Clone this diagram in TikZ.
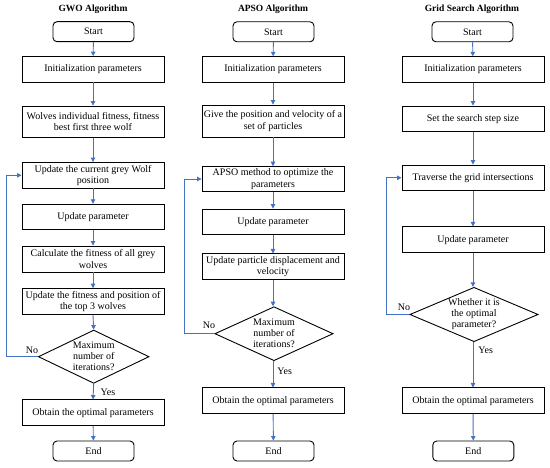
\documentclass[tikz,border=0pt]{standalone}
\usepackage{fontspec}
\setmainfont{Liberation Serif}
\usetikzlibrary{shapes.geometric,arrows.meta}
\definecolor{flowblue}{RGB}{68,114,196}
\begin{document}
\begin{tikzpicture}[x=1pt,y=-1pt,
  box/.style={draw=black, line width=0.9pt, minimum width=142pt, minimum height=25.5pt, align=center, inner sep=1pt, font=\fontsize{10}{11.5}\selectfont},
  term/.style={draw=black, line width=0.9pt, rounded corners=4pt, minimum width=81pt, minimum height=20pt, inner sep=1pt, font=\fontsize{10}{11.5}\selectfont},
  dia/.style={draw=black, line width=0.9pt, diamond, inner sep=0pt},
  diatext/.style={align=center, inner sep=0pt, font=\fontsize{10}{11}\selectfont},
  arr/.style={draw=flowblue, line width=0.9pt, -{Triangle[length=4.5pt,width=4.5pt]}},
  ttl/.style={font=\bfseries\fontsize{9.5}{11}\selectfont},
  lbl/.style={inner sep=0pt, font=\fontsize{10}{11}\selectfont}
]
\useasboundingbox (0,0) rectangle (550,468);
\coordinate (gl) at (6,0);
\coordinate (al) at (184,0);
\coordinate (rl) at (386,0);

% GWO
\node[ttl] (g0) at (93,9.3) {GWO Algorithm};
\node[term] (gs) at (93.5,31.7) {Start};
\node[box] (g1) at (93,69.3) {Initialization parameters};
\node[box, minimum height=31.3pt] (g2) at (93,121.7) {Wolves individual fitness, fitness\\best first three wolf};
\node[box] (g3) at (93,175.3) {Update the current grey Wolf\\position};
\node[box] (g4) at (93,217) {Update parameter};
\node[box, minimum height=26pt] (g5) at (93,259) {Calculate the fitness of all grey\\wolves};
\node[box, minimum height=26pt] (g6) at (93,301.7) {Update the fitness and position of\\the top 3 wolves};
\node[dia, minimum width=110.7pt, minimum height=53.3pt] (gd) at (93.7,356.7) {};
\node[diatext] (gdt) at (gd) {Maximum\\number of\\iterations?};
\node[box] (g7) at (93,412.7) {Obtain the optimal parameters};
\node[term] (ge) at (93.5,451) {End};
\node[lbl] (gno) at (32,350) {No};
\node[lbl] (gyes) at (108,392) {Yes};
\draw[arr] (gs) -- (g1);
\draw[arr] (g1) -- (g2);
\draw[arr] (g2) -- (g3);
\draw[arr] (g3) -- (g4);
\draw[arr] (g4) -- (g5);
\draw[arr] (g5) -- (g6);
\draw[arr] (g6.south) -- (gd.north);
\draw[arr] (gd.south) -- (g7.north);
\draw[arr] (g7) -- (ge);
\draw[arr] (gd.west) -- (gd.west -| gl) |- (g3.west);

% APSO
\node[ttl] (a0) at (273,9.3) {APSO Algorithm};
\node[term] (as) at (273.5,31.8) {Start};
\node[box] (a1) at (273,69.5) {Initialization parameters};
\node[box, minimum height=32pt] (a2) at (273,121) {Give the position and velocity of a\\set of particles};
\node[box, minimum height=24.6pt] (a3) at (273,179) {APSO method to optimize the\\parameters};
\node[box] (a4) at (273,221.8) {Update parameter};
\node[box] (a5) at (273,266.7) {Update particle displacement and\\velocity};
\node[dia, minimum width=118.3pt, minimum height=54pt] (ad) at (274,333.7) {};
\node[diatext] (adt) at (ad) {Maximum\\number of\\iterations?};
\node[box] (a7) at (273,400.7) {Obtain the optimal parameters};
\node[term] (ae) at (273.5,451) {End};
\node[lbl] (ano) at (209,325) {No};
\node[lbl] (ayes) at (284.7,371.7) {Yes};
\draw[arr] (as) -- (a1);
\draw[arr] (a1) -- (a2);
\draw[arr] (a2) -- (a3);
\draw[arr] (a3) -- (a4);
\draw[arr] (a4) -- (a5);
\draw[arr] (a5.south) -- (a5.south |- ad.north);
\draw[arr] (a7.north |- ad.south) -- (a7.north);
\draw[arr] (a7) -- (ae);
\draw[arr] (ad.west) -- (ad.west -| al) |- (a3.west);

% Grid search
\node[ttl] (r0) at (472,9.3) {Grid Search Algorithm};
\node[term] (rs) at (472.5,31.8) {Start};
\node[box] (r1) at (473,69.5) {Initialization parameters};
\node[box] (r2) at (473,118.8) {Set the search step size};
\node[box] (r3) at (473,177.8) {Traverse the grid intersections};
\node[box] (r4) at (473,239.7) {Update parameter};
\node[dia, minimum width=128.3pt, minimum height=54.4pt] (rd) at (474,314.5) {};
\node[diatext] (rdt) at (rd) {Whether it is\\the optimal\\parameter?};
\node[box] (r7) at (473,400.7) {Obtain the optimal parameters};
\node[term] (re) at (473.3,451) {End};
\node[lbl] (rno) at (404,307) {No};
\node[lbl] (ryes) at (485.7,350.7) {Yes};
\draw[arr] (rs) -- (r1);
\draw[arr] (r1) -- (r2);
\draw[arr] (r2) -- (r3);
\draw[arr] (r3) -- (r4);
\draw[arr] (r4.south) -- (r4.south |- rd.north);
\draw[arr] (r7.north |- rd.south) -- (r7.north);
\draw[arr] (r7) -- (re);
\draw[arr] (rd.west) -- (rd.west -| rl) |- (r3.west);
\end{tikzpicture}
\end{document}
